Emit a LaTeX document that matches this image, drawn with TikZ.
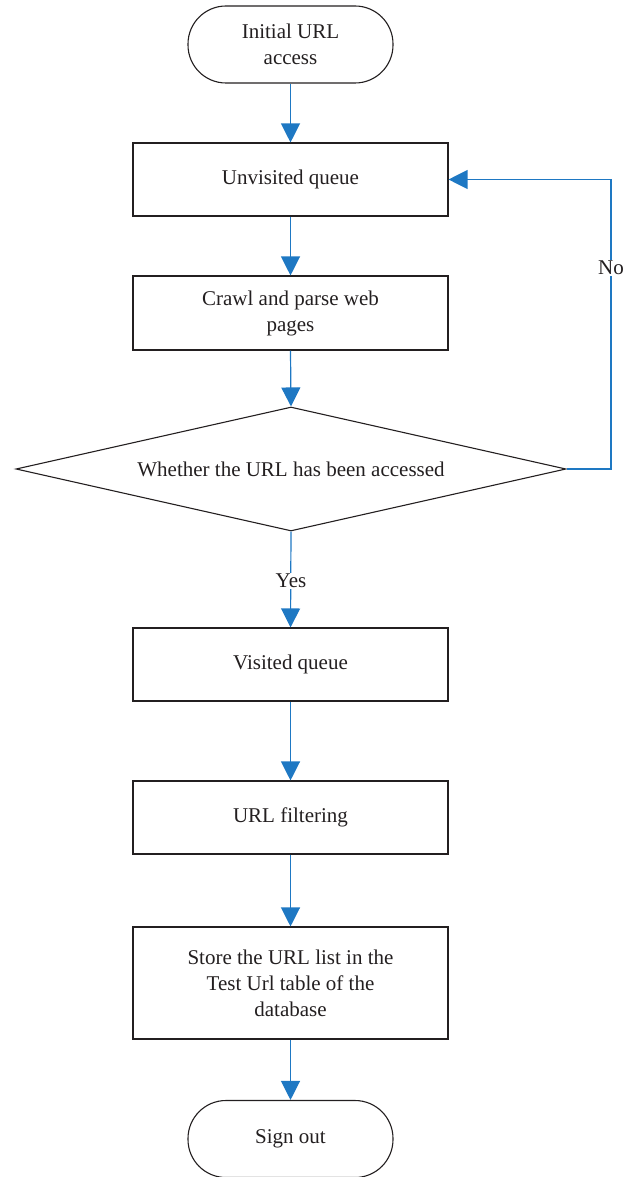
\documentclass[tikz,border=0pt]{standalone}
\usepackage{fontspec}
\setmainfont{Liberation Serif}
\usetikzlibrary{arrows.meta,shapes.geometric}
\definecolor{ink}{RGB}{35,31,32}
\definecolor{flowblue}{RGB}{30,120,195}
\tikzset{
  every node/.style={font=\fontsize{21}{26}\selectfont, text=ink, align=center},
  procbox/.style={draw=ink, line width=1.1pt, minimum width=315pt, inner sep=0pt},
  terminal/.style={draw=ink, line width=1.1pt, rounded corners=38pt,
    minimum width=205pt, minimum height=77pt, inner sep=0pt},
  decision/.style={draw=ink, line width=1.1pt, diamond, aspect=4.435,
    minimum width=550pt, minimum height=124pt, inner sep=0pt},
  flow/.style={draw=flowblue, line width=1.2pt,
    -{Triangle[length=19pt,width=19pt]}, color=flowblue},
  lbl/.style={fill=white, inner sep=1.5pt}
}
\begin{document}
\begin{tikzpicture}[x=1pt,y=-1pt]
  \useasboundingbox (0,0) rectangle (632,1177);
  % nodes, top to bottom
  \node[terminal] (start) at (290.5,44.5) {Initial URL\\access};
  \node[procbox, minimum height=73pt] (unv) at (290.5,179.5) {Unvisited queue};
  \node[procbox, minimum height=74pt] (crawl) at (290.5,313) {Crawl and parse web\\pages};
  \node[decision] (dec) at (291,469) {Whether the URL has been accessed};
  \node[procbox, minimum height=73pt] (vis) at (290.5,664.5) {Visited queue};
  \node[procbox, minimum height=73pt] (filt) at (290.5,817.5) {URL filtering};
  \node[procbox, minimum height=112pt] (store) at (290.5,983) {Store the URL list in the\\Test Url table of the\\database};
  \node[terminal] (stop) at (290.5,1139) {Sign out};
  % connectors
  \draw[flow] (start.south) -- (unv.north);
  \draw[flow] (unv.south) -- (crawl.north);
  \draw[flow] (crawl.south) -- (dec.north);
  \draw[flow] (dec.south) -- (vis.north);
  \draw[flow] (vis.south) -- (filt.north);
  \draw[flow] (filt.south) -- (store.north);
  \draw[flow] (store.south) -- (stop.north);
  \coordinate (loopcorner) at (611,469);
  \draw[flow] (dec.east) -- (loopcorner) |- (unv.east);
  % branch labels
  \node[lbl] (nolbl) at (611,268) {No};
  \node[lbl] (yeslbl) at (291,581) {Yes};
\end{tikzpicture}
\end{document}
